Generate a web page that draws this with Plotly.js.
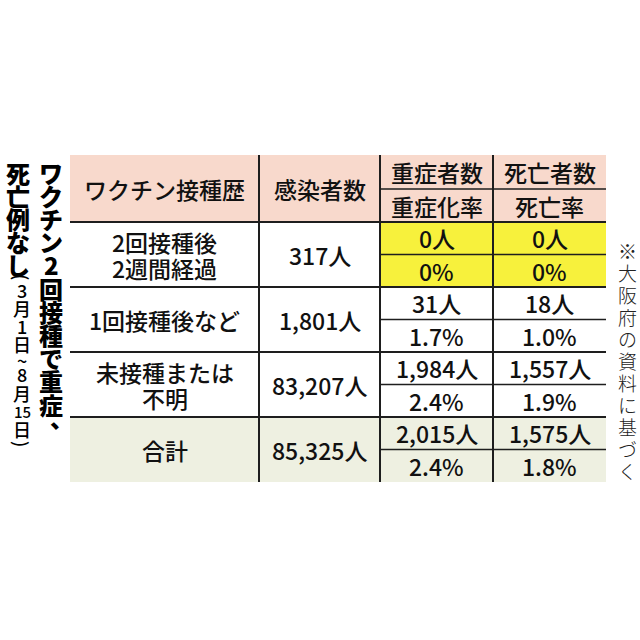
<!DOCTYPE html>
<html><head><meta charset="utf-8">
<script src="https://cdn.plot.ly/plotly-3.0.1.min.js"></script>
<style>html,body{margin:0;padding:0;background:#fff;}</style>
</head><body><div id="chart" style="width:640px;height:640px;"></div>
<script>
// ---- data ----
const headerLabels = ["ワクチン接種歴", "感染者数"];
const severeHeaders = ["重症者数", "重症化率"];
const deathHeaders = ["死亡者数", "死亡率"];
const groupLabels = [["2回接種後", "2週間経過"], ["1回接種後など"], ["未接種または", "不明"], ["合計"]];
const infected = [317, 1801, 83207, 85325];
const severeCount = [0, 31, 1984, 2015];
const deathCount = [0, 18, 1557, 1575];
const severeRate = [0, 1.7, 2.4, 2.4];
const deathRate = [0, 1.0, 1.9, 1.8];
const titleRight = "ワクチン2回接種で重症、";
const titleLeft = "死亡例なし";
const titleDates = ["(", "3", "月", "1", "日", "~", "8", "月", "15", "日", ")"];
const sourceNote = "※大阪府の資料に基づく";

// ---- geometry / style ----
const FONT = "Noto Sans CJK JP, Noto Sans, sans-serif";
const colX = [70, 259, 380, 493, 606];
const hTop = 155, hMid = 189, hBot = 222, rowH = 65;
const PINK = "#f8d9cc", YELLOW = "#f7f13c", GREEN = "#eef0e1", LINE = "#1e1e1e", TXT = "#111";

const shapes = [];
const ann = [];
function rect(x0, x1, y0, y1, fill) {
  shapes.push({type: "rect", xref: "x", yref: "y", x0, x1, y0, y1, fillcolor: fill, line: {width: 0}, layer: "below"});
}
function line(x0, x1, y0, y1, w) {
  shapes.push({type: "line", xref: "x", yref: "y", x0, x1, y0, y1, line: {color: LINE, width: w}});
}
function text(t, x, y, size, opts) {
  ann.push(Object.assign({text: t, x, y, xref: "x", yref: "y", showarrow: false, borderpad: 0,
    xanchor: "center", yanchor: "middle", font: {family: FONT, size, color: TXT, weight: 500}}, opts || {}));
}

const nRows = groupLabels.length;
const rowTop = i => hBot + i * rowH;
const tableBot = rowTop(nRows);
const cx = c => (colX[c] + colX[c + 1]) / 2;

// backgrounds
rect(colX[0], colX[4], hTop, hBot, PINK);
severeCount.forEach((v, i) => { if (v === 0) rect(colX[2], colX[4], rowTop(i), rowTop(i + 1), YELLOW); });
rect(colX[0], colX[4], rowTop(nRows - 1), tableBot, GREEN);

// grid lines
[1, 2, 3].forEach(c => line(colX[c], colX[c], hTop, tableBot, 2));
for (let i = 0; i < nRows; i++) line(colX[0], colX[4], rowTop(i), rowTop(i), 2);
line(colX[2], colX[4], hMid, hMid, 1.5);
for (let i = 0; i < nRows; i++) line(colX[2], colX[4], rowTop(i) + rowH / 2, rowTop(i) + rowH / 2, 1.5);

// header text
const FS = 23;
text(headerLabels[0], cx(0), (hTop + hBot) / 2, FS);
text(headerLabels[1], cx(1), (hTop + hBot) / 2, FS);
text(severeHeaders[0], cx(2), (hTop + hMid) / 2, FS);
text(severeHeaders[1], cx(2), (hMid + hBot) / 2, FS);
text(deathHeaders[0], cx(3), (hTop + hMid) / 2, FS);
text(deathHeaders[1], cx(3), (hMid + hBot) / 2, FS);

// body text
const fmtN = v => v.toLocaleString("en-US") + "人";
const fmtR = v => (v === 0 ? "0" : v.toFixed(1)) + "%";
for (let i = 0; i < nRows; i++) {
  const mid = rowTop(i) + rowH / 2;
  const lines = groupLabels[i];
  lines.forEach((l, k) => text(l, cx(0), mid + (k - (lines.length - 1) / 2) * 26, FS));
  text(fmtN(infected[i]), cx(1), mid, FS);
  text(fmtN(severeCount[i]), cx(2), rowTop(i) + rowH / 4, FS);
  text(fmtR(severeRate[i]), cx(2), rowTop(i) + 3 * rowH / 4, FS);
  text(fmtN(deathCount[i]), cx(3), rowTop(i) + rowH / 4, FS);
  text(fmtR(deathRate[i]), cx(3), rowTop(i) + 3 * rowH / 4, FS);
}

// vertical title (right column)
const bold = {weight: 800};
Array.from(titleRight).forEach((ch, k) => {
  let x = 51, y = 172 + k * 23.2;
  if (ch === "、") { x += 11; y -= 10; }
  text(ch, x, y, 24, {font: Object.assign({family: FONT, size: 24, color: "#000"}, bold)});
});
// vertical title (left column)
Array.from(titleLeft).forEach((ch, k) => text(ch, 18, 172 + k * 23, 24, {font: Object.assign({family: FONT, size: 24, color: "#000"}, bold)}));
const dateY = [277, 290, 308, 326, 344, 360, 374, 393, 411, 429, 444];
titleDates.forEach((ch, k) => {
  const o = {};
  if (ch === "(" || ch === ")") o.textangle = 90;
  const s = ch === "15" ? 15 : 18;
  o.font = {family: FONT, size: s, color: "#000", weight: 500};
  text(ch, 22, dateY[k], s, o);
});
// source note
Array.from(sourceNote).forEach((ch, k) => text(ch, 627, 250 + k * 22, 19, {font: {family: FONT, size: 19, color: "#222", weight: 300}}));

Plotly.newPlot("chart", [{x: [0], y: [0], mode: "markers", marker: {opacity: 0}, hoverinfo: "skip", showlegend: false}], {
  width: 640, height: 640, margin: {l: 0, r: 0, t: 0, b: 0},
  paper_bgcolor: "#fff", plot_bgcolor: "#fff",
  xaxis: {range: [0, 640], visible: false, fixedrange: true},
  yaxis: {range: [640, 0], visible: false, fixedrange: true},
  shapes, annotations: ann, showlegend: false
}, {displayModeBar: false, staticPlot: true});
</script></body></html>
